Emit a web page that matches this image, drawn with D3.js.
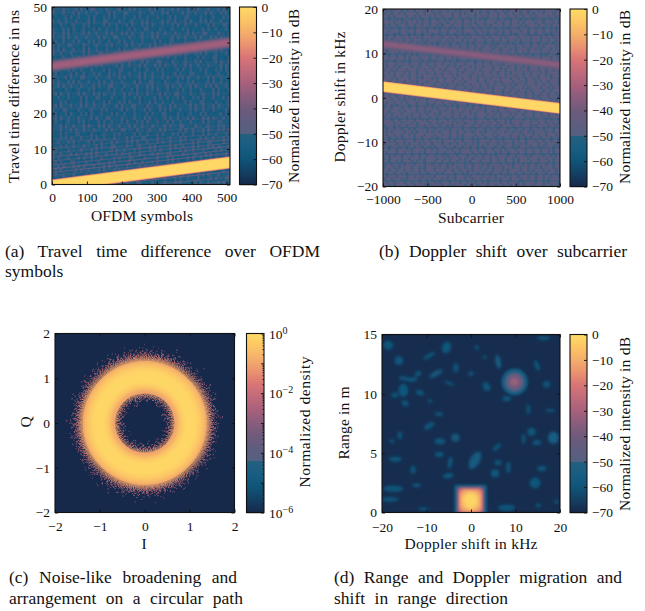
<!DOCTYPE html>
<html><head><meta charset="utf-8">
<script src="https://cdn.jsdelivr.net/npm/d3@7"></script>
<style>html,body{margin:0;background:#fff}svg{display:block}text{font-family:"Liberation Serif",serif;fill:#111}</style>
</head><body><svg id="c" width="645" height="611"></svg>
<script>
// ---- colour bar (dB -> colour), with its step at -50 dB
const cmapDb=[-70,-65,-60,-55,-50.01,-50,-45,-40,-35,-30,-25,-20,-15,-10,-5,0];
const cmapCol=["#16294a","#143f63","#0f5579","#185d83","#246080","#556081","#5f5d7f","#6f5a7c","#8a5c7d","#a7607c","#c06a7b","#d87476","#ea9270","#f4ae6b","#fcc565","#fedb66"];
// ---- tick labels
const ticksAX=[0,100,200,300,400,500], ticksAY=[0,10,20,30,40,50];
const ticksBX=[-1000,-500,0,500,1000], ticksBY=[-20,-10,0,10,20];
const ticksCX=[-2,-1,0,1,2], ticksCY=[-2,-1,0,1,2];
const ticksDX=[-20,-10,0,10,20], ticksDY=[0,5,10,15];
const ticksDb=[0,-10,-20,-30,-40,-50,-60,-70];
const ticksDensityExp=[0,-2,-4,-6];
// ---- ridges [centre left, centre right, half width] and cross-section [offset, dB]
const mainProfile=[[1,-42],[.96,-28],[.91,-15],[.84,-6],[.74,-1]];
const echoProfileA=[[1.05,-44],[.8,-37],[.5,-31]];
const echoProfileB=[[1.05,-46],[.8,-40],[.5,-35]];
const ridgeAMain=[-0.3,6.2,1.8], ridgeAEcho=[33.4,40,1.5];
const ridgeBMain=[2.5,-2.4,1.3], ridgeBEcho=[12.1,7.4,.95];
// side-lobe stripes [y at left, y at right, opacity]
const stripesA=[[2.6,7.6,.3],[-1.5,3.6,.7],[-3,2.1,.55],[-4.5,.9,.45],[3.4,8.8,.7],[4.4,9.8,.65],[5.5,10.8,.55],[6.6,11.7,.5],[7.7,12.7,.45],[8.9,13.6,.35],[10.2,14.6,.3],[11.5,15.7,.25],[12.8,16.7,.2],[14.2,17.9,.15],[15.8,19,.12]];
const stripesB=[[4.6,2.3,.2],[5.6,3.2,.2],[6.7,4.2,.18],[7.8,5.3,.15],[9,6.2,.12],[0.4,-4.4,.15],[-.6,-5.4,.15],[-1.6,-6.4,.12],[-2.8,-7.5,.12],[-4,-8.6,.1]];
// background grain: levels across the picture (dB), and how far each row of grain is offset
const colsA=[-47,-56,-51,-58,-47,-55,-52,-58,-53,-46,-60,-49,-55,-52,-58,-50,-47,-57,-53,-56,-59,-48,-54,-51,-60,-51,-47,-56,-53,-58,-50,-55,-46,-59,-52,-56,-57,-52,-47,-60,-50,-54,-56,-48,-58,-52,-54,-50,-59,-46,-53,-56,-58,-48,-55,-50,-60,-46,-52,-57,-54,-49,-58,-52,-55,-48,-59,-46,-53,-56];
const shiftsA=[0,13,37,5,52,21,44,9,31,61,17,3,48,26,57,11,39,66,23,7,54,33,2,43,16,59,28,6,50,35,12,64,20,46,8,55,30,15,62,25,41,4,53,18];
const rowsA=[-50,-54,-47,-56,-49,-45,-58,-52,-46,-55,-48,-57,-45,-53,-59,-47,-50,-56,-46,-54,-58,-49,-46,-55,-52,-47,-59,-50,-48,-56,-46,-53,-57,-49,-47,-58,-51,-46,-55,-48,-57,-50,-46,-54,-59,-47,-52,-56,-49,-47];
const colsB=[-44,-52,-47,-55,-43,-50,-46,-54,-42,-51,-48,-44,-56,-46,-50,-43,-53,-47,-45,-55,-49,-42,-52,-46,-44,-54,-48,-43,-51,-46,-56,-44,-49,-47,-53,-42,-50,-45,-55,-46,-43,-52,-48,-44,-54,-47,-42,-51,-45,-56,-46,-43,-50,-48,-53,-44,-47,-55,-43,-49,-46,-52,-44,-54,-47,-42,-50,-46,-53,-45];
const shiftsB=[0,29,11,47,6,63,19,38,3,55,24,42,14,59,8,34,50,17,68,27,45,1,36,12,53,22,64,9,40,31,5,49,26,61,15,43,2,57,20,67,33,10,52,28,44,7,60,18,37,65,23,4,48,13,56,30,41,16,62,25];
const rowsB=[-48,-44,-52,-46,-43,-54,-47,-45,-50,-42,-53,-46,-48,-44,-55,-47,-43,-51,-46,-49,-44,-53,-47,-42,-50,-46,-54,-44,-48,-43,-52,-46,-45,-50,-43,-47,-51,-44,-46,-48,-43,-45,-49,-44,-46,-43,-47,-44,-45,-48,-43,-46,-44,-47,-50,-44,-52,-46,-43,-54,-47,-45,-50,-43,-53,-46,-48,-44,-55,-47,-43,-51,-46,-49,-44,-53,-47,-42,-50,-46];
// ---- panel (c): radial profile [r, log10 density] and speckle rings [r, coverage, log10 density]
const ringC=[[.66,-1],[.72,-.8],[.82,-.35],[.92,-.1],[1.12,-.1],[1.22,-.32],[1.32,-.65],[1.38,-.95]];
const speckleC=[[.72,.95,-.8],[.695,.88,-.9],[.67,.78,-1],[.645,.68,-1.1],[.62,.58,-1.2],[.595,.47,-1.4],[.57,.36,-1.6],[.545,.26,-1.8],[.52,.18,-2],[.495,.12,-2.1],[.47,.08,-2.3],[.445,.05,-2.4],[.42,.03,-2.5],[.395,.02,-2.6],[.37,.01,-2.6],
 [1.36,.95,-.85],[1.385,.88,-.95],[1.41,.78,-1.05],[1.435,.67,-1.2],[1.46,.56,-1.35],[1.485,.46,-1.5],[1.51,.37,-1.7],[1.535,.29,-1.9],[1.56,.22,-2.1],[1.585,.16,-2.2],[1.61,.11,-2.3],[1.635,.075,-2.4],[1.66,.05,-2.5],[1.685,.03,-2.6],[1.71,.02,-2.6],[1.74,.012,-2.7],[1.78,.006,-2.7]];
// ---- panel (d): side-lobe patches [kHz, m, rx kHz, ry m, rotation deg, dB]
const patchesD=[[-18.6,14.1,1.1,.38,0,-59],[-16.2,12.8,.95,.36,0,-59],[-15,11.3,1.3,.18,10,-60],[-13.3,11.2,1.3,.2,-5,-60],[-11.9,11.7,.7,.22,-30,-59],[-15.2,10.3,1.1,.55,0,-59],[-11.5,10.1,.95,.22,20,-60],[-17.1,9.9,.8,.22,0,-60],[-14.8,9.2,.8,.24,30,-60],[-7.9,11.7,1.7,.2,-30,-58],[-5.5,13.9,1,.5,20,-59],[-9.4,13.2,1.5,.17,-30,-60],[-3.4,12.2,.6,.4,0,-61],[0,11.7,.6,.2,0,-61],[-4.9,10.9,1.3,.13,20,-61],[-9.2,9.4,.55,.18,0,-62],[-7.2,8.3,.9,.17,0,-60],[-9.4,7.3,1.3,.24,-30,-60],[-7,6,1.2,.26,0,-59],[-3.5,6.3,.95,.34,0,-58],[-16,6.5,.6,.34,0,-61],[-17.8,6,.6,.17,0,-61],[-7.1,4.9,.95,.22,0,-59],[-17,4.5,1.5,.22,0,-60],[-13,3.6,.6,.34,0,-60],[-4.7,4.2,.55,.5,10,-60],[.9,4.4,1.1,.8,30,-57],[5.4,3.3,.95,.34,0,-59],[5.8,5.5,1.2,.17,-40,-60],[8.4,3.8,.5,.45,0,-60],[14.4,2.5,1.2,.45,30,-59],[15.9,3.7,1.05,.22,0,-59],[18.5,6.3,1.2,.5,0,-55],[13.6,6.8,.95,.34,0,-59],[14.8,5.9,.95,.22,0,-59],[11.8,6.2,.4,.42,0,-60],[17,10.8,.8,.28,0,-60],[17.8,8.6,1.05,.14,0,-61],[14.8,12.4,.5,.45,-20,-60],[6.1,12.7,.6,.6,-10,-57],[16.3,14.7,1.5,.17,0,-60],[1.3,13.9,.6,.17,0,-61],[3.1,13.1,.6,.14,0,-61],[-17.5,2,2.3,.28,0,-60],[-18.2,1.1,1.9,.2,0,-60],[-12.2,2.3,.95,.17,0,-60],[-5.1,3.1,1.2,.22,-10,-59],[8,.4,1.9,.28,0,-60],[15.1,.6,.6,.17,0,-60],[19.2,.9,.6,.17,0,-61],[8,9.6,.95,.22,0,-59],[3.5,10.6,.8,.4,-30,-60],[12.9,8.7,.45,.42,0,-61],[-10.7,.3,1.2,.14,0,-61],[6.1,4.2,.8,.22,0,-60]];
// targets: nested levels [half width kHz, half height m, corner fraction, dB]
const targetNear=[[3.7,1.36,.15,-58],[3.25,1.24,.15,-52],[2.95,1.12,.22,-36],[2.7,1.02,.35,-20],[2.4,.92,.55,-12],[1.95,.78,.85,-6],[1.45,.58,1,-1.5]];
const targetFar=[[3,1.15,1,-58],[2.5,.96,1,-54],[2.05,.78,1,-47],[1.5,.58,1,-40],[.9,.34,1,-33]];
const nearCentre=[-.1,1], farCentre=[9.8,11];

const svg=d3.select("#c");
const cmap=d3.scaleLinear().domain(cmapDb).range(cmapCol).clamp(true);
const defs=svg.append("defs");
[["b05",.6],["b04",.4],["b1",1.4],["b08",.9]].forEach(([id,s])=>defs.append("filter").attr("id",id).attr("x","-30%").attr("y","-30%").attr("width","160%").attr("height","160%").append("feGaussianBlur").attr("stdDeviation",s));

const minus=s=>String(s).replace("-","\u2212");
function panel(id,o){
  defs.append("clipPath").attr("id","clip"+id).append("rect").attr("x",o.l).attr("y",o.t).attr("width",o.r-o.l).attr("height",o.b-o.t);
  const x=d3.scaleLinear().domain(o.xd).range([o.l,o.r]), y=d3.scaleLinear().domain(o.yd).range([o.b,o.t]);
  const g=svg.append("g"), plot=g.append("g").attr("clip-path",`url(#clip${id})`);
  return {g,plot,x,y,o};
}
function finish(p,xt,yt,xTitle,yTitle,cbTicks){
  const {g,x,y,o}=p;
  const axis=(gen,tr)=>{const a=g.append("g").attr("transform",tr).call(gen);a.select(".domain").remove();a.selectAll("line").attr("stroke","#111").attr("stroke-width",.9);return a;};
  const bx=axis(d3.axisBottom(x).tickValues(xt).tickSize(-3).tickFormat(minus),`translate(0,${o.b})`);
  bx.selectAll("text").attr("y",o.xTickY-o.b).attr("dy",0).attr("font-size",13.5).style("font-family",'"Liberation Serif",serif');
  axis(d3.axisTop(x).tickValues(xt).tickSize(-3).tickFormat(""),`translate(0,${o.t})`);
  const ly=axis(d3.axisLeft(y).tickValues(yt).tickSize(-3).tickFormat(minus),`translate(${o.l},0)`);
  ly.selectAll("text").attr("x",-5).attr("dy",".33em").attr("font-size",13.5).style("font-family",'"Liberation Serif",serif');
  axis(d3.axisRight(y).tickValues(yt).tickSize(-3).tickFormat(""),`translate(${o.r},0)`);
  g.append("rect").attr("x",o.l).attr("y",o.t).attr("width",o.r-o.l).attr("height",o.b-o.t).attr("fill","none").attr("stroke","#111").attr("stroke-width",1.1);
  g.append("text").attr("x",xTitle[1]).attr("y",xTitle[2]).attr("text-anchor","middle").attr("font-size",15.5).attr("textLength",xTitle[3]).text(xTitle[0]);
  g.append("text").attr("transform",`translate(${yTitle[1]},${yTitle[2]}) rotate(-90)`).attr("text-anchor","middle").attr("font-size",15.5).attr("textLength",yTitle[3]).text(yTitle[0]);
  const cb=g.append("g"), by=d3.scaleLinear().domain([-70,0]).range([o.b,o.t]);
  const steps=d3.range(Math.floor(o.t),Math.ceil(o.b));
  cb.selectAll("rect").data(steps).join("rect").attr("x",o.cl).attr("y",d=>d).attr("width",o.cr-o.cl).attr("height",1.2).attr("fill",d=>cmap(by.invert(d+.5)));
  if(cbTicks==="db"){
    const a=axis(d3.axisRight(by).tickValues(ticksDb).tickSize(-3).tickFormat(minus),`translate(${o.cr},0)`);
    a.selectAll("text").attr("x",5).attr("dy",".33em").attr("font-size",13.5).style("font-family",'"Liberation Serif",serif');
  }else{
    const ly2=d3.scaleLog().domain([1e-6,1]).range([o.b,o.t]);
    const minor=[];ticksDensityExp.slice(1).concat([-1,-3,-5]).forEach(e=>[2,3,4,5,6,7,8,9].forEach(k=>minor.push(k*Math.pow(10,e))));
    axis(d3.axisRight(ly2).tickValues(minor).tickSize(-1.5).tickFormat(""),`translate(${o.cr},0)`);
    axis(d3.axisRight(ly2).tickValues(ticksDensityExp.concat([-1,-3,-5]).map(e=>Math.pow(10,e))).tickSize(-3).tickFormat(""),`translate(${o.cr},0)`);
    ticksDensityExp.forEach(e=>{
      const t=g.append("text").attr("x",o.cr+5).attr("y",ly2(Math.pow(10,e))+5).attr("font-size",13.5);
      t.append("tspan").text("10");
      t.append("tspan").attr("dy",-5).attr("font-size",10).text(minus(e));
    });
  }
  g.append("rect").attr("x",o.cl).attr("y",o.t).attr("width",o.cr-o.cl).attr("height",o.b-o.t).attr("fill","none").attr("stroke","#111").attr("stroke-width",1.1);
  g.append("text").attr("transform",`translate(${o.cbT[0]},${o.cbT[1]}) rotate(-90)`).attr("text-anchor","middle").attr("font-size",15.5).attr("textLength",o.cbT[3]).text(o.cbT[2]);
}
function texture(p,cols,shifts,rows,baseDb,colOp,rowOp){
  const {plot,o}=p,W=o.r-o.l,H=o.b-o.t;
  const t=plot.append("g").attr("filter","url(#b05)");
  t.append("rect").attr("x",o.l-3).attr("y",o.t-3).attr("width",W+6).attr("height",H+6).attr("fill",cmap(baseDb));
  const cx=d3.scaleBand().domain(d3.range(cols.length)).range([o.l,o.r]);
  const sy=d3.scaleBand().domain(d3.range(shifts.length)).range([o.t,o.b]);
  shifts.forEach((s,j)=>{
    t.append("g").selectAll("rect").data(cols).join("rect").attr("x",(d,i)=>cx((i+s)%cols.length)).attr("y",sy(j)).attr("width",cx.bandwidth()+.3).attr("height",sy.bandwidth()+.3).attr("fill",d=>cmap(d)).attr("opacity",colOp);
  });
  const ry=d3.scaleBand().domain(d3.range(rows.length)).range([o.b,o.t]);
  t.append("g").selectAll("rect").data(rows).join("rect").attr("x",o.l).attr("y",(d,i)=>ry(i)).attr("width",W).attr("height",ry.bandwidth()).attr("fill",d=>cmap(d)).attr("opacity",rowOp);
}
function stripes(p,list,db){
  const {plot,x,y}=p,[a,b]=x.domain();
  plot.append("g").attr("filter","url(#b04)").selectAll("line").data(list).join("line")
   .attr("x1",x(a)).attr("x2",x(b)).attr("y1",d=>y(d[0])).attr("y2",d=>y(d[1])).attr("stroke",cmap(db)).attr("stroke-width",1.1).attr("opacity",d=>d[2]);
}
function ridge(p,r,profile,blur){
  const {plot,x,y}=p,[a,b]=x.domain(),e=(r[1]-r[0])*20/(b-a);
  const area=d3.area().x(d=>x(d[0])).y0(d=>y(d[1])).y1(d=>y(d[2]));
  plot.append("g").attr("filter",`url(#${blur})`).selectAll("path").data(profile).join("path")
   .attr("d",q=>area([[a-20,r[0]-e-r[2]*q[0],r[0]-e+r[2]*q[0]],[b+20,r[1]+e-r[2]*q[0],r[1]+e+r[2]*q[0]]]))
   .attr("fill",q=>cmap(q[1]));
}
// ---------- (a)
const A=panel("a",{l:52,r:230,t:7,b:184.5,xd:[0,510],yd:[0,50],cl:239.5,cr:256.5,xTickY:202,cbT:[299,96,"Normalized intensity in dB",174]});
texture(A,colsA,shiftsA,rowsA,-54,.6,.14);
stripes(A,stripesA,-38);
ridge(A,ridgeAEcho,echoProfileA,"b08");
ridge(A,ridgeAMain,mainProfile,"b04");
finish(A,ticksAX,ticksAY,["OFDM symbols",142,221,102],["Travel time difference in ns",19,96.5,173],"db");
// ---------- (b)
const B=panel("b",{l:383,r:560,t:9,b:186.5,xd:[-1000,1000],yd:[-20,20],cl:570,cr:587,xTickY:204,cbT:[630,97,"Normalized intensity in dB",174]});
texture(B,colsB,shiftsB,rowsB,-48,.5,.22);
stripes(B,stripesB,-38);
ridge(B,ridgeBEcho,echoProfileB,"b08");
ridge(B,ridgeBMain,mainProfile,"b04");
finish(B,ticksBX,ticksBY,["Subcarrier",471,223,66],["Doppler shift in kHz",345,97,131],"db");
// ---------- (c)
const C=panel("c",{l:55,r:234.5,t:333.5,b:512.5,xd:[-2,2],yd:[-2,2],cl:246.5,cr:264,xTickY:530.5,cbT:[310,422,"Normalized density",131]});
const logDb=d3.scaleLinear().domain([-6,0]).range([-70,0]);
C.plot.append("rect").attr("x",55).attr("y",333.5).attr("width",180).attr("height",179).attr("fill",cmap(-70));
const cg=C.plot.append("g").attr("transform",`translate(${C.x(0)},${C.y(0)})`);
const unit=C.x(1)-C.x(0);
const rMax=d3.max(ringC,d=>d[0]);
const grad=defs.append("radialGradient").attr("id","ringGrad").attr("gradientUnits","userSpaceOnUse").attr("cx",0).attr("cy",0).attr("r",rMax*unit);
grad.selectAll("stop").data(ringC).join("stop").attr("offset",d=>d[0]/rMax).attr("stop-color",d=>cmap(logDb(d[1])));
const arc=d3.arc();
cg.append("path").attr("d",arc({innerRadius:ringC[0][0]*unit,outerRadius:rMax*unit,startAngle:0,endAngle:2*Math.PI})).attr("fill","url(#ringGrad)");
[[1.2,1,37],[.9,1.61,71]].forEach(([dash,k,off])=>{
  cg.append("g").selectAll("circle").data(speckleC).join("circle").attr("r",d=>(d[0]+(k>1?.012:-.004))*unit).attr("fill","none").attr("stroke",d=>cmap(logDb(d[2]))).attr("stroke-width",1)
  .attr("stroke-dasharray",d=>{const g=dash*(1-d[1])/d[1]*k;return `${dash} ${g.toFixed(2)} ${dash*.7} ${(g*1.37).toFixed(2)} ${dash*1.3} ${(g*.73).toFixed(2)}`;})
  .attr("stroke-dashoffset",d=>d[0]*off);
});
finish(C,ticksCX,ticksCY,["I",144,549,5],["Q",31,422,11],"log");
// ---------- (d)
const D=panel("d",{l:382,r:560,t:334.5,b:512.5,xd:[-20,20],yd:[0,15],cl:570,cr:587,xTickY:531.5,cbT:[630,424,"Normalized intensity in dB",174]});
D.plot.append("rect").attr("x",382).attr("y",334).attr("width",178).attr("height",179).attr("fill",cmap(-69));
const kx=Math.abs(D.x(1)-D.x(0)), my=Math.abs(D.y(1)-D.y(0));
D.plot.append("g").attr("filter","url(#b1)").selectAll("ellipse").data(patchesD).join("ellipse")
  .attr("transform",d=>`translate(${D.x(d[0])},${D.y(d[1])}) rotate(${d[4]})`).attr("rx",d=>d[2]*kx).attr("ry",d=>d[3]*my).attr("fill",d=>cmap(d[5]));
function target(list,c,blur){
  D.plot.append("g").attr("filter",`url(#${blur})`).selectAll("rect").data(list).join("rect")
   .attr("x",d=>D.x(c[0]-d[0])).attr("y",d=>D.y(c[1]+d[1])).attr("width",d=>2*d[0]*kx).attr("height",d=>2*d[1]*my)
   .attr("rx",d=>d[2]*d[0]*kx).attr("ry",d=>d[2]*d[1]*my).attr("fill",d=>cmap(d[3]));
}
target(targetFar,farCentre,"b08");
target(targetNear,nearCentre,"b08");
finish(D,ticksDX,ticksDY,["Doppler shift in kHz",471,549,133],["Range in m",349,423,73],"db");
// ---------- captions: natural letters, justified by word spacing
const captions=[["(a) Travel time difference over OFDM",5,257,315],["symbols",5,277,62],["(b) Doppler shift over subcarrier",379,257,248],
["(c) Noise-like broadening and",9,583,228],["arrangement on a circular path",9,604,234],["(d) Range and Doppler migration and",334,583,288],["shift in range direction",334,604,174]];
svg.append("g").selectAll("text").data(captions).join("text").attr("x",d=>d[1]).attr("y",d=>d[2]).attr("font-size",17.5).text(d=>d[0])
  .each(function(d){const n=this.getComputedTextLength(),sp=d[0].split(" ").length-1;if(sp>0)d3.select(this).attr("word-spacing",((d[3]-n)/sp).toFixed(2));});
</script></body></html>
